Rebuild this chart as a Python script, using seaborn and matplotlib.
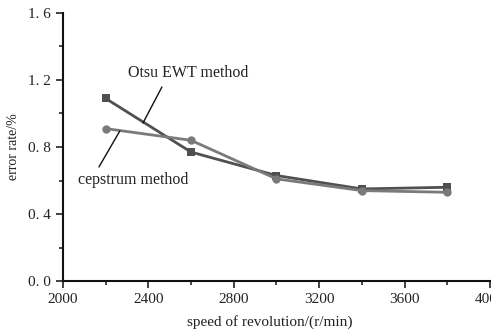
import matplotlib
matplotlib.use("Agg")
import matplotlib.pyplot as plt
import seaborn as sns
import pandas as pd
from matplotlib.ticker import MultipleLocator, FixedLocator

speed = [2200, 2600, 3000, 3400, 3800]
otsu_ewt = [1.09, 0.77, 0.63, 0.55, 0.56]
cepstrum = [0.91, 0.84, 0.61, 0.54, 0.53]
series_names = ["Otsu EWT method", "cepstrum method"]
x_ticks = [2000, 2400, 2800, 3200, 3600, 4000]
y_ticks = [0.0, 0.4, 0.8, 1.2, 1.6]
y_tick_labels = ["0. 0", "0. 4", "0. 8", "1. 2", "1. 6"]

df = pd.DataFrame({
    "speed": speed * 2,
    "error": otsu_ewt + cepstrum,
    "method": [series_names[0]] * len(speed) + [series_names[1]] * len(speed),
})

sns.set_style("ticks")
plt.rcParams["font.family"] = ["Liberation Serif", "DejaVu Serif"]

fig = plt.figure(figsize=(4.91, 3.30), dpi=100)
ax = fig.add_axes([0.128, 0.148, 0.870, 0.813])

sns.lineplot(data=df, x="speed", y="error", hue="method", style="method",
             markers={series_names[0]: "s", series_names[1]: "o"}, dashes=False,
             palette={series_names[0]: "#505050", series_names[1]: "#7a7a7a"},
             linewidth=2, markersize=6, markeredgewidth=0, legend=False, ax=ax)

ax.set_xlim(2000, 4000)
ax.set_ylim(0, 1.6)
ax.xaxis.set_major_locator(FixedLocator(x_ticks))
ax.xaxis.set_minor_locator(MultipleLocator(200))
ax.yaxis.set_major_locator(FixedLocator(y_ticks))
ax.set_yticklabels(y_tick_labels)
ax.yaxis.set_minor_locator(MultipleLocator(0.2))
ax.tick_params(which="major", direction="out", length=5, width=1.2, labelsize=11, colors="#222222")
ax.tick_params(which="minor", direction="out", length=3, width=1.2)
for s in ["left", "bottom"]:
    ax.spines[s].set_linewidth(1.5)
    ax.spines[s].set_color("#111111")
sns.despine(ax=ax)

ax.set_xlabel("speed of revolution/(r/min)", fontsize=11, color="#222222")
ax.xaxis.set_label_coords(0.485, -0.125)
ax.set_ylabel("error rate/%", fontsize=10, color="#222222", labelpad=6)

# label texts
ax.text(2585, 1.242, series_names[0], ha="center", va="center", fontsize=11.5, color="#222222")
ax.text(2328, 0.603, series_names[1], ha="center", va="center", fontsize=11.5, color="#222222")
# leader lines
ax.annotate("", xy=(2375, 0.943), xytext=(2464, 1.158),
            arrowprops=dict(arrowstyle="-", color="#111111", lw=1, shrinkA=0, shrinkB=0))
ax.annotate("", xy=(2267, 0.896), xytext=(2169, 0.681),
            arrowprops=dict(arrowstyle="-", color="#111111", lw=1, shrinkA=0, shrinkB=0))

fig.savefig("out.png", dpi=100)
